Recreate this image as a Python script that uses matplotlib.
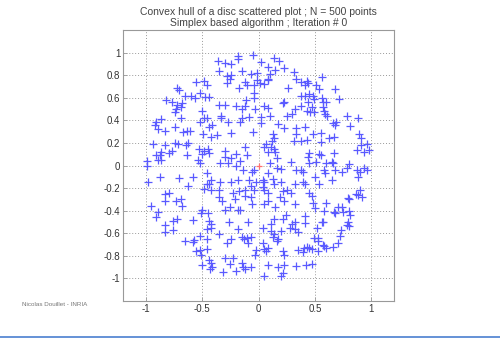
import matplotlib
matplotlib.use("Agg")
import matplotlib.pyplot as plt
from matplotlib.lines import Line2D

plt.rcParams['font.family'] = ['Liberation Sans', 'DejaVu Sans']

# Points, grouped by region of the disc
upper_left = [(-0.55, 0.74), (-0.48, 0.75), (-0.46, 0.71), (-0.72, 0.69), (-0.70, 0.67), (-0.52, 0.64),
              (-0.65, 0.62), (-0.60, 0.62), (-0.56, 0.60), (-0.47, 0.61), (-0.44, 0.61), (-0.82, 0.58),
              (-0.77, 0.56), (-0.72, 0.54), (-0.68, 0.55), (-0.69, 0.52), (-0.73, 0.50), (-0.74, 0.47),
              (-0.69, 0.42), (-0.50, 0.48), (-0.48, 0.42), (-0.46, 0.42), (-0.86, 0.41)]
upper_mid = [(-0.36, 0.93), (-0.30, 0.91), (-0.24, 0.90), (-0.18, 0.97), (-0.18, 0.94), (-0.05, 0.98),
             (0.02, 0.92), (0.14, 0.95), (0.18, 0.93), (0.08, 0.87), (0.15, 0.85), (0.23, 0.86),
             (0.31, 0.83), (-0.35, 0.84), (-0.28, 0.79), (-0.24, 0.80), (-0.25, 0.77), (-0.15, 0.84),
             (-0.07, 0.81), (-0.01, 0.82), (-0.01, 0.76), (0.08, 0.77), (0.10, 0.81), (0.33, 0.77),
             (-0.28, 0.73), (-0.17, 0.69), (-0.12, 0.74), (-0.10, 0.71), (-0.04, 0.71), (0.01, 0.73),
             (0.05, 0.72), (0.08, 0.76), (0.26, 0.69), (-0.04, 0.64), (-0.04, 0.60), (-0.11, 0.58),
             (0.23, 0.56), (-0.35, 0.54), (-0.30, 0.54), (-0.20, 0.53), (-0.12, 0.53), (-0.15, 0.50),
             (-0.03, 0.50), (0.05, 0.53), (0.08, 0.51), (0.22, 0.55), (0.32, 0.50), (-0.33, 0.44),
             (-0.33, 0.42), (-0.15, 0.42), (-0.08, 0.43), (0.02, 0.43), (0.10, 0.44), (0.25, 0.44),
             (0.30, 0.46)]
upper_right = [(0.38, 0.74), (0.43, 0.75), (0.41, 0.71), (0.44, 0.73), (0.51, 0.71), (0.54, 0.68),
               (0.56, 0.78), (0.38, 0.62), (0.41, 0.62), (0.45, 0.63), (0.48, 0.62), (0.49, 0.59),
               (0.44, 0.56), (0.38, 0.53), (0.47, 0.52), (0.43, 0.48), (0.46, 0.47), (0.49, 0.47),
               (0.56, 0.60), (0.57, 0.56), (0.60, 0.56), (0.57, 0.52), (0.58, 0.48), (0.59, 0.46),
               (0.61, 0.44), (0.68, 0.68), (0.71, 0.59), (0.78, 0.44), (0.88, 0.42)]
mid_left = [(-0.91, 0.39), (-0.92, 0.36), (-0.89, 0.32), (-0.83, 0.31), (-0.74, 0.34), (-0.67, 0.30),
            (-0.63, 0.31), (-0.61, 0.31), (-0.52, 0.39), (-0.41, 0.36), (-0.44, 0.34), (-0.42, 0.25),
            (-0.49, 0.28), (-0.45, 0.15), (-0.93, 0.19), (-0.83, 0.18), (-0.74, 0.20), (-0.71, 0.19),
            (-0.64, 0.18), (-0.62, 0.20), (-0.53, 0.15), (-0.50, 0.10), (-0.48, 0.13), (-0.44, 0.11),
            (-0.91, 0.09), (-0.86, 0.12), (-0.87, 0.09), (-0.89, 0.05), (-0.86, 0.05), (-0.79, 0.11),
            (-0.77, 0.13), (-0.63, 0.09), (-0.54, 0.05), (-0.52, 0.02), (-0.99, 0.04), (-0.985, 0.0),
            (-0.87, -0.10), (-0.70, -0.11), (-0.58, -0.10), (-0.46, -0.07), (-0.98, -0.15), (-0.62, -0.18),
            (-0.46, -0.16), (-0.44, -0.16), (-0.42, -0.13), (-0.48, -0.21), (-0.42, -0.22), (-0.83, -0.25),
            (-0.79, -0.24), (-0.83, -0.31), (-0.73, -0.31), (-0.69, -0.30)]
center = [(-0.27, 0.39), (-0.16, 0.39), (0.02, 0.38), (0.17, 0.37), (0.23, 0.33), (0.33, 0.33),
          (0.33, 0.28), (-0.37, 0.27), (-0.24, 0.29), (-0.05, 0.30), (0.13, 0.28), (0.14, 0.24),
          (0.12, 0.22), (0.31, 0.22), (0.07, 0.19), (0.05, 0.16), (0.11, 0.16), (0.14, 0.15),
          (0.15, 0.12), (0.16, 0.07), (0.08, 0.12), (-0.12, 0.16), (-0.30, 0.13), (-0.30, 0.08),
          (-0.20, 0.10), (-0.10, 0.09), (-0.24, 0.07), (-0.16, 0.04), (-0.34, 0.02), (-0.27, 0.02),
          (-0.20, 0.0), (-0.14, -0.04), (-0.04, -0.04), (-0.06, -0.06), (0.10, 0.02), (0.08, -0.07),
          (0.16, -0.02), (0.20, -0.03), (0.29, 0.03), (0.33, -0.04), (-0.34, -0.15), (-0.24, -0.15),
          (-0.18, -0.13), (-0.08, -0.13), (-0.02, -0.15), (-0.07, -0.18), (0.04, -0.13), (0.05, -0.15),
          (0.13, -0.12), (0.14, -0.16), (0.20, -0.15), (0.32, -0.16), (-0.35, -0.22), (-0.35, -0.28),
          (-0.23, -0.24), (-0.17, -0.23), (-0.12, -0.22), (-0.04, -0.22), (0.04, -0.19), (0.05, -0.22),
          (0.08, -0.24), (0.22, -0.23), (0.25, -0.22), (0.29, -0.24), (-0.32, -0.31), (-0.21, -0.30),
          (-0.12, -0.27), (-0.07, -0.28), (-0.06, -0.34), (0.05, -0.34), (0.08, -0.31), (0.19, -0.28),
          (0.23, -0.31), (0.32, -0.34)]
mid_right = [(0.41, 0.34), (0.66, 0.38), (0.68, 0.36), (0.69, 0.39), (0.81, 0.35), (0.48, 0.28),
             (0.55, 0.29), (0.62, 0.24), (0.67, 0.25), (0.89, 0.28), (0.91, 0.24), (0.91, 0.18),
             (0.96, 0.19), (0.38, 0.22), (0.43, 0.23), (0.55, 0.21), (0.87, 0.14), (0.93, 0.12),
             (0.975, 0.14), (0.67, 0.11), (0.45, 0.11), (0.44, 0.08), (0.54, 0.10), (0.55, 0.09),
             (0.51, 0.03), (0.45, 0.02), (0.60, 0.02), (0.65, 0.03), (0.66, 0.02), (0.80, 0.01),
             (0.78, -0.02), (0.38, -0.04), (0.39, -0.06), (0.58, -0.04), (0.59, -0.07), (0.68, -0.04),
             (0.74, -0.06), (0.87, -0.04), (0.90, -0.06), (0.93, -0.02), (0.96, -0.04), (0.88, -0.10),
             (0.50, -0.10), (0.54, -0.16), (0.65, -0.13), (0.39, -0.15), (0.41, -0.16), (0.45, -0.24),
             (0.47, -0.27), (0.90, -0.22), (0.88, -0.26), (0.86, -0.25), (0.92, -0.28), (0.48, -0.33),
             (0.60, -0.33), (0.79, -0.29), (0.80, -0.30)]
lower_left = [(-0.95, -0.36), (-0.89, -0.41), (-0.91, -0.46), (-0.76, -0.49), (-0.72, -0.47), (-0.68, -0.36),
              (-0.58, -0.48), (-0.50, -0.39), (-0.51, -0.42), (-0.45, -0.42), (-0.44, -0.49), (-0.42, -0.52),
              (-0.42, -0.55), (-0.46, -0.56), (-0.83, -0.53), (-0.76, -0.57), (-0.83, -0.59), (-0.52, -0.62),
              (-0.46, -0.65), (-0.65, -0.67), (-0.58, -0.68), (-0.57, -0.66), (-0.46, -0.74), (-0.52, -0.75),
              (-0.55, -0.76), (-0.51, -0.79), (-0.44, -0.84), (-0.42, -0.86), (-0.50, -0.88), (-0.43, -0.92),
              (-0.41, -0.90)]
lower_mid = [(-0.30, -0.39), (-0.25, -0.37), (-0.18, -0.39), (-0.16, -0.39), (0.15, -0.37), (0.14, -0.47),
             (0.24, -0.44), (0.22, -0.47), (0.30, -0.52), (0.32, -0.50), (0.28, -0.55), (0.32, -0.56),
             (-0.26, -0.50), (-0.09, -0.50), (0.11, -0.52), (0.11, -0.58), (0.14, -0.61), (0.13, -0.63),
             (-0.18, -0.56), (0.20, -0.58), (0.04, -0.55), (0.35, -0.59), (-0.35, -0.61), (-0.24, -0.65),
             (-0.15, -0.63), (-0.13, -0.65), (-0.10, -0.64), (-0.07, -0.63), (-0.09, -0.69), (-0.28, -0.69),
             (0.04, -0.69), (0.05, -0.74), (0.08, -0.73), (0.07, -0.76), (0.16, -0.67), (0.17, -0.65),
             (-0.02, -0.75), (-0.03, -0.79), (0.22, -0.76), (0.23, -0.79), (0.35, -0.75), (-0.30, -0.82),
             (-0.23, -0.82), (-0.25, -0.87), (-0.15, -0.86), (-0.14, -0.90), (-0.12, -0.92), (-0.07, -0.90),
             (-0.20, -0.93), (-0.31, -0.94), (0.08, -0.88), (0.17, -0.90), (0.23, -0.88), (0.33, -0.89),
             (0.22, -0.95), (0.20, -0.98), (0.05, -0.98)]
lower_right = [(0.50, -0.38), (0.58, -0.40), (0.67, -0.41), (0.68, -0.42), (0.70, -0.37), (0.74, -0.37),
               (0.75, -0.41), (0.80, -0.40), (0.41, -0.45), (0.41, -0.51), (0.56, -0.50), (0.57, -0.50),
               (0.79, -0.50), (0.81, -0.44), (0.78, -0.53), (0.80, -0.54), (0.52, -0.55), (0.73, -0.57),
               (0.72, -0.62), (0.49, -0.64), (0.53, -0.64), (0.53, -0.67), (0.57, -0.70), (0.58, -0.71),
               (0.60, -0.73), (0.66, -0.72), (0.70, -0.69), (0.40, -0.73), (0.43, -0.72), (0.45, -0.73),
               (0.47, -0.74), (0.39, -0.77), (0.53, -0.76), (0.42, -0.88), (0.47, -0.87)]
start_point = (0.0, 0.0)

x_ticks = [-1, -0.5, 0, 0.5, 1]
y_ticks = [-1, -0.8, -0.6, -0.4, -0.2, 0, 0.2, 0.4, 0.6, 0.8, 1]

regions = [upper_left, upper_mid, upper_right, mid_left, center, mid_right,
           lower_left, lower_mid, lower_right]
pts = [p for r in regions for p in r]
xs = [p[0] for p in pts]
ys = [p[1] for p in pts]

fig = plt.figure(figsize=(5, 3.38), dpi=100)
ax = fig.add_axes([0.246, 0.1095, 0.542, 0.8015])

ax.plot(xs, ys, '+', color='#5a5aff', markersize=5.5, markeredgewidth=0.9)
ax.plot(start_point[0], start_point[1], '+', color='#ff7070', markersize=4, markeredgewidth=0.9)

ax.set_xlim(-1.2, 1.2)
ax.set_ylim(-1.2, 1.2)
ax.set_xticks(x_ticks)
ax.set_xticklabels(['-1', '-0.5', '0', '0.5', '1'])
ax.set_yticks(y_ticks)
ax.set_yticklabels(['-1', '-0.8', '-0.6', '-0.4', '-0.2', '0', '0.2', '0.4', '0.6', '0.8', '1'])
ax.tick_params(direction='in', length=3, width=0.6, colors='#999999', labelcolor='#333333',
               labelsize=7, pad=2)
ax.grid(True, linestyle=(0, (1, 2)), color='#999999', linewidth=0.7)
for s in ax.spines.values():
    s.set_color('#999999')
    s.set_linewidth(0.8)

ax.set_title("Convex hull of a disc scattered plot ; N = 500 points\nSimplex based algorithm ; Iteration # 0",
             fontsize=7.5, color='#444444', pad=3, linespacing=1.15)

fig.text(0.044, 0.094, "Nicolas Douillet - INRIA", fontsize=4.5, color='#777777')
fig.add_artist(Line2D([0, 1], [0.003, 0.003], color='#4a7fd0', linewidth=1.2))

fig.savefig("out.png", dpi=100)
